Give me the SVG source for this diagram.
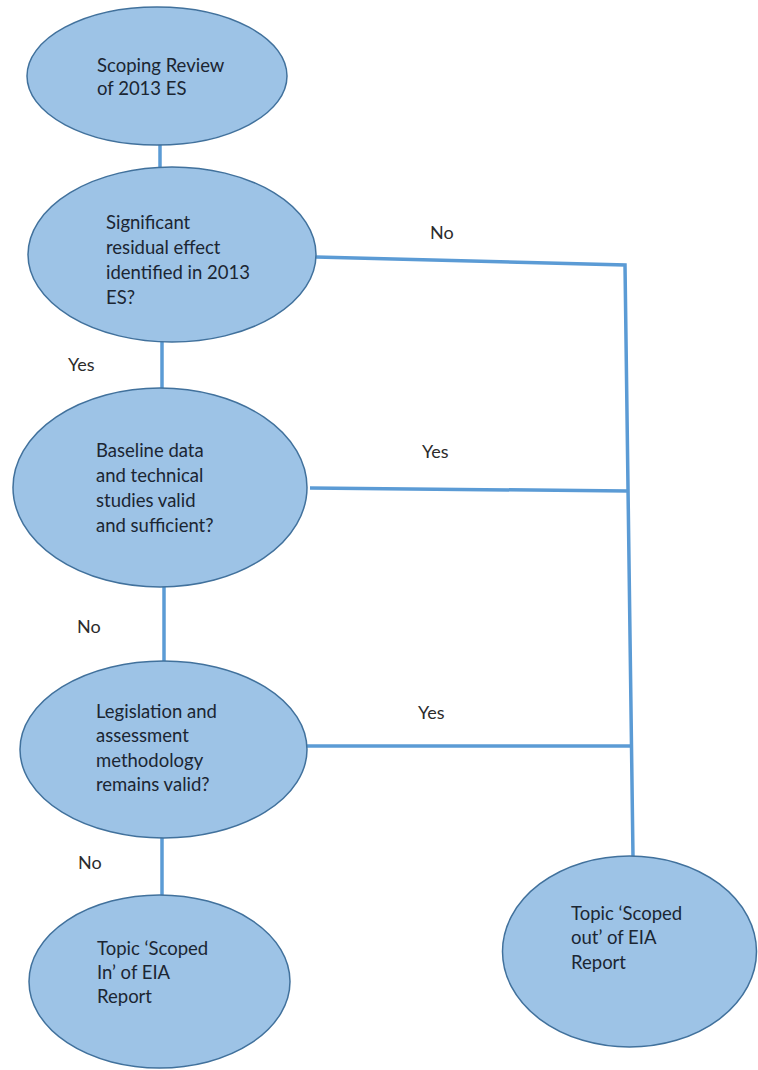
<svg xmlns="http://www.w3.org/2000/svg" width="758" height="1070" viewBox="0 0 758 1070">
<style>
.node{fill:#9DC3E6;stroke:#41719C;stroke-width:1.5}
.t{font-family:Lato,"Open Sans","Liberation Sans",sans-serif;font-size:18.5px;fill:#1b2633}
.lbl{font-family:Lato,"Open Sans","Liberation Sans",sans-serif;font-size:18px;fill:#2b2b2b}
.c{fill:none;stroke:#5B9BD5;stroke-width:3.5}
</style>
<rect width="758" height="1070" fill="#fff"/>
<g id="connectors">
<line class="c" x1="160" y1="144" x2="160" y2="168"/>
<line class="c" x1="162" y1="341" x2="162" y2="389"/>
<line class="c" x1="164" y1="586" x2="164" y2="662"/>
<line class="c" x1="162" y1="837" x2="162" y2="896"/>
<path class="c" d="M316,257 L625,265 L633,857"/>
<line class="c" x1="310" y1="488" x2="628" y2="491"/>
<line class="c" x1="306" y1="746" x2="632" y2="746"/>
<text class="lbl" x="430" y="239">No</text>
<text class="lbl" x="422" y="458">Yes</text>
<text class="lbl" x="418" y="719">Yes</text>
<text class="lbl" x="68" y="371">Yes</text>
<text class="lbl" x="77" y="633">No</text>
<text class="lbl" x="78" y="869">No</text>
</g>
<g id="n1">
<ellipse class="node" cx="157" cy="76" rx="130" ry="69"/>
<text class="t" x="97" y="72">Scoping Review</text>
<text class="t" x="97" y="95">of 2013 ES</text>
</g>
<g id="n2">
<ellipse class="node" cx="172" cy="254.5" rx="144" ry="87.5"/>
<text class="t" x="106" y="229">Significant</text>
<text class="t" x="106" y="254">residual effect</text>
<text class="t" x="106" y="279">identified in 2013</text>
<text class="t" x="106" y="304">ES?</text>
</g>
<g id="n3">
<ellipse class="node" cx="160" cy="487.5" rx="147" ry="99.5"/>
<text class="t" x="96" y="457">Baseline data</text>
<text class="t" x="96" y="482">and technical</text>
<text class="t" x="96" y="507">studies valid</text>
<text class="t" x="96" y="532">and sufficient?</text>
</g>
<g id="n4">
<ellipse class="node" cx="163.5" cy="749.5" rx="143.5" ry="88.5"/>
<text class="t" x="96" y="718">Legislation and</text>
<text class="t" x="96" y="742">assessment</text>
<text class="t" x="96" y="767">methodology</text>
<text class="t" x="96" y="791">remains valid?</text>
</g>
<g id="n5">
<ellipse class="node" cx="159.5" cy="981.5" rx="130.5" ry="86.5"/>
<text class="t" x="97" y="955">Topic ‘Scoped</text>
<text class="t" x="97" y="979">In’ of EIA</text>
<text class="t" x="97" y="1003">Report</text>
</g>
<g id="n6">
<ellipse class="node" cx="629.5" cy="951.5" rx="127" ry="95.5"/>
<text class="t" x="571" y="920">Topic ‘Scoped</text>
<text class="t" x="571" y="944">out’ of EIA</text>
<text class="t" x="571" y="969">Report</text>
</g>
</svg>
